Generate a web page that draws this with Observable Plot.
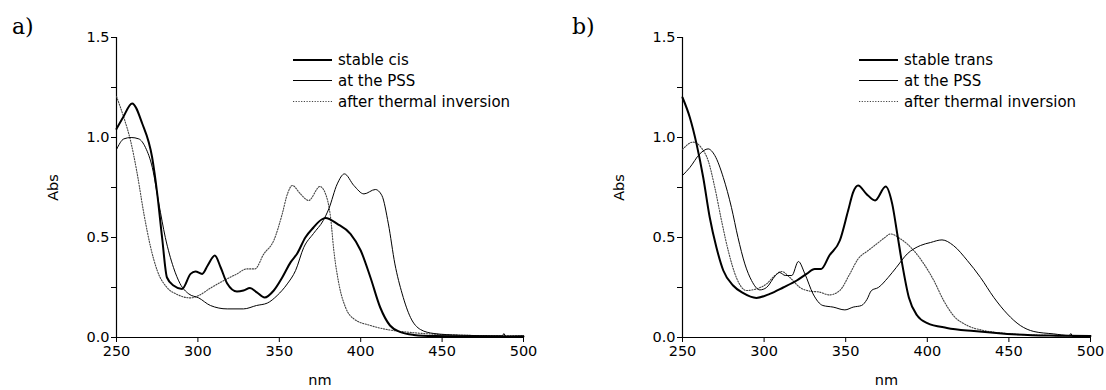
<!DOCTYPE html>
<html>
<head>
<meta charset="utf-8">
<script src="https://cdn.jsdelivr.net/npm/d3@7"></script>
<script src="https://cdn.jsdelivr.net/npm/@observablehq/plot@0.6"></script>
<style>
  html, body { margin: 0; padding: 0; background: #fff; }
  #wrap { position: relative; width: 1106px; height: 390px; overflow: hidden; }
  .panel { position: absolute; top: 0; }
  #overlay { position: absolute; left: 0; top: 0; pointer-events: none; }
</style>
</head>
<body>
<div id="wrap">
  <div id="pa" class="panel" style="left:0px"></div>
  <div id="pb" class="panel" style="left:553px"></div>
  <svg id="overlay" width="1106" height="390"></svg>
</div>
<script>
// ---------------- data ----------------
const xTicks = [250, 300, 350, 400, 450, 500];
const yTicks = [0, 0.5, 1.0, 1.5];
const yMinorTicks = [0.25, 0.75, 1.25];

const legendA = ["stable cis", "at the PSS", "after thermal inversion"];
const legendB = ["stable trans", "at the PSS", "after thermal inversion"];

// panel a) stable cis
const aCisNm  = [250, 254, 259.6, 265.8, 271.9, 275, 278, 281, 285, 290.3, 295.5, 298.5, 302.6, 306, 310.4, 314, 318, 324, 328, 332, 336, 341, 346.6, 351.8, 357, 361, 366, 371, 376, 378.4, 385.6, 393.7, 400, 406, 412, 418, 424.5, 432.6, 445, 470, 500];
const aCisAbs = [1.043, 1.10, 1.17, 1.07, 0.90, 0.72, 0.50, 0.30, 0.26, 0.243, 0.318, 0.33, 0.318, 0.36, 0.41, 0.35, 0.27, 0.23, 0.235, 0.247, 0.227, 0.20, 0.235, 0.30, 0.377, 0.42, 0.50, 0.55, 0.59, 0.597, 0.568, 0.518, 0.435, 0.30, 0.15, 0.06, 0.027, 0.013, 0.007, 0.005, 0.005];
// panel a) at the PSS
const aPssNm  = [250, 254.5, 259, 263.7, 267.8, 272, 276, 280, 285, 289, 294.4, 300.5, 307.7, 318, 328, 336, 342.6, 348.7, 354.9, 360, 365, 371, 377, 380.4, 385.6, 390, 395.8, 402, 409, 413, 417, 421, 425.5, 430.6, 436.7, 445, 460, 487, 488, 489, 500];
const aPssAbs = [0.94, 0.993, 1.0, 0.993, 0.95, 0.85, 0.67, 0.50, 0.35, 0.27, 0.218, 0.198, 0.16, 0.143, 0.143, 0.16, 0.172, 0.21, 0.268, 0.335, 0.45, 0.52, 0.585, 0.643, 0.768, 0.818, 0.76, 0.718, 0.74, 0.71, 0.568, 0.368, 0.218, 0.10, 0.04, 0.02, 0.012, 0.008, 0.02, 0.005, 0.008];
// panel a) after thermal inversion
const aInvNm  = [250, 254.5, 258.6, 262.7, 266.8, 271, 275, 281, 287.3, 295.5, 300.5, 307.7, 316, 324, 330, 335, 340.5, 346.6, 351.8, 355, 358, 363, 368, 375, 378.4, 381.5, 383.5, 386.6, 390.7, 395.8, 406, 416, 428.5, 442, 470, 500];
const aInvAbs = [1.205, 1.10, 0.985, 0.82, 0.62, 0.45, 0.335, 0.25, 0.215, 0.198, 0.21, 0.247, 0.285, 0.318, 0.343, 0.343, 0.418, 0.485, 0.618, 0.718, 0.76, 0.718, 0.685, 0.755, 0.718, 0.60, 0.435, 0.268, 0.15, 0.093, 0.06, 0.04, 0.027, 0.018, 0.01, 0.008];

// panel b) stable trans
const bTransNm  = [250, 254.5, 258.6, 262.7, 266.7, 270.8, 275, 281, 287, 295.3, 303.5, 311.7, 320, 326, 331, 335, 340, 346.4, 351.5, 354.6, 357.6, 362.7, 368, 374.5, 378.5, 381.6, 384.6, 388.7, 393.8, 400, 412, 428.5, 449, 475, 500];
const bTransAbs = [1.20, 1.10, 0.968, 0.80, 0.60, 0.45, 0.335, 0.26, 0.223, 0.198, 0.218, 0.25, 0.285, 0.318, 0.343, 0.343, 0.41, 0.485, 0.635, 0.727, 0.76, 0.718, 0.685, 0.755, 0.668, 0.518, 0.368, 0.20, 0.11, 0.072, 0.048, 0.032, 0.018, 0.01, 0.008];
// panel b) at the PSS
const bPssNm  = [250, 254.5, 260.6, 265.7, 269.8, 275, 280, 284, 288.2, 292.3, 297.4, 301.5, 307, 309.5, 313, 317, 321, 325, 330, 336, 342.3, 349.5, 354.6, 359.7, 363, 365.8, 370, 376, 381, 387.7, 395.8, 402, 409, 416, 424.5, 432.6, 440.8, 449, 457, 465.3, 477.5, 487, 488, 489, 500];
const bPssAbs = [0.81, 0.85, 0.918, 0.943, 0.91, 0.80, 0.65, 0.50, 0.368, 0.285, 0.238, 0.25, 0.31, 0.325, 0.31, 0.31, 0.38, 0.318, 0.218, 0.16, 0.152, 0.138, 0.152, 0.16, 0.19, 0.235, 0.25, 0.30, 0.35, 0.418, 0.46, 0.475, 0.488, 0.46, 0.385, 0.30, 0.20, 0.118, 0.06, 0.03, 0.018, 0.01, 0.02, 0.005, 0.008];
// panel b) after thermal inversion
const bInvNm  = [250, 256.5, 261.6, 265.7, 269.8, 273.9, 278, 283, 289.2, 295.3, 301.5, 306.6, 310.7, 315.8, 322, 328, 334, 340, 346.4, 352.5, 357.6, 363.8, 369, 374, 377.5, 383.6, 391.7, 397.9, 404, 410, 416, 424.5, 434.6, 449, 475, 500];
const bInvAbs = [0.94, 0.977, 0.948, 0.885, 0.75, 0.585, 0.435, 0.30, 0.235, 0.243, 0.268, 0.31, 0.33, 0.30, 0.25, 0.232, 0.227, 0.213, 0.235, 0.318, 0.393, 0.435, 0.468, 0.50, 0.518, 0.493, 0.435, 0.368, 0.285, 0.185, 0.11, 0.06, 0.035, 0.02, 0.01, 0.008];

// ---------------- styles ----------------
const thick = {stroke: "#000", strokeWidth: 2};
const thin = {stroke: "#000", strokeWidth: 1};
const dotted = {stroke: "#444", strokeWidth: 1.1, strokeDasharray: "1.2,1.5"};
const FS = 14.5;

function panel(series, ml, mr) {
  const svg = Plot.plot({
    width: 553,
    height: 390,
    marginLeft: ml,
    marginRight: mr,
    marginTop: 37,
    marginBottom: 53,
    style: {fontFamily: "DejaVu Sans, sans-serif", fontSize: FS + "px", color: "#000", background: "transparent"},
    x: {domain: [250, 500]},
    y: {domain: [0, 1.5]},
    marks: [
      Plot.axisY({ticks: yMinorTicks, tickSize: 5, tickFormat: () => "", label: null}),
      Plot.axisY({ticks: yTicks, tickSize: 5, tickPadding: 2, tickFormat: d3.format(".1f"), fontSize: FS,
                  label: "Abs", labelAnchor: "center", labelArrow: "none", labelOffset: 69}),
      Plot.axisX({ticks: xTicks, tickSize: 5, tickPadding: 3, tickFormat: d3.format("d"), fontSize: FS,
                  label: "nm", labelAnchor: "center", labelArrow: "none", labelOffset: 47}),
      Plot.ruleX([250], {y1: 0, y2: 1.5, stroke: "#000", strokeWidth: 1.2}),
      Plot.ruleY([0], {stroke: "#000", strokeWidth: 1.2}),
      ...series.map(([nm, abs, st]) =>
        Plot.line(abs, {x: nm, y: abs, curve: "monotone-x", ...st}))
    ]
  });
  d3.select(svg).selectAll("text")
    .style("font-size", FS + "px")
    .style("font-family", "DejaVu Sans, sans-serif");
  return svg;
}

document.getElementById("pa").append(panel([
  [aInvNm, aInvAbs, dotted],
  [aPssNm, aPssAbs, thin],
  [aCisNm, aCisAbs, thick]
], 116, 30));

document.getElementById("pb").append(panel([
  [bInvNm, bInvAbs, dotted],
  [bPssNm, bPssAbs, thin],
  [bTransNm, bTransAbs, thick]
], 129, 16));

// ---------------- overlay: panel letters and legends ----------------
const ov = d3.select("#overlay");
ov.append("text").attr("x", 12).attr("y", 34).attr("font-family", "DejaVu Serif, serif").attr("font-size", 22).text("a)");
ov.append("text").attr("x", 572).attr("y", 34).attr("font-family", "DejaVu Serif, serif").attr("font-size", 22).text("b)");

function legend(x0, labels) {
  const styles = [thick, thin, dotted];
  const ys = [60, 80.5, 101.5];
  labels.forEach((lab, i) => {
    const s = styles[i];
    ov.append("line").attr("x1", x0).attr("x2", x0 + 39).attr("y1", ys[i]).attr("y2", ys[i])
      .attr("stroke", s.stroke).attr("stroke-width", s.strokeWidth)
      .attr("stroke-dasharray", s.strokeDasharray || null);
    ov.append("text").attr("x", x0 + 45).attr("y", ys[i] + 5.2)
      .attr("font-family", "DejaVu Sans, sans-serif").attr("font-size", 15).text(lab);
  });
}
legend(293, legendA);
legend(859, legendB);
</script>
</body>
</html>
